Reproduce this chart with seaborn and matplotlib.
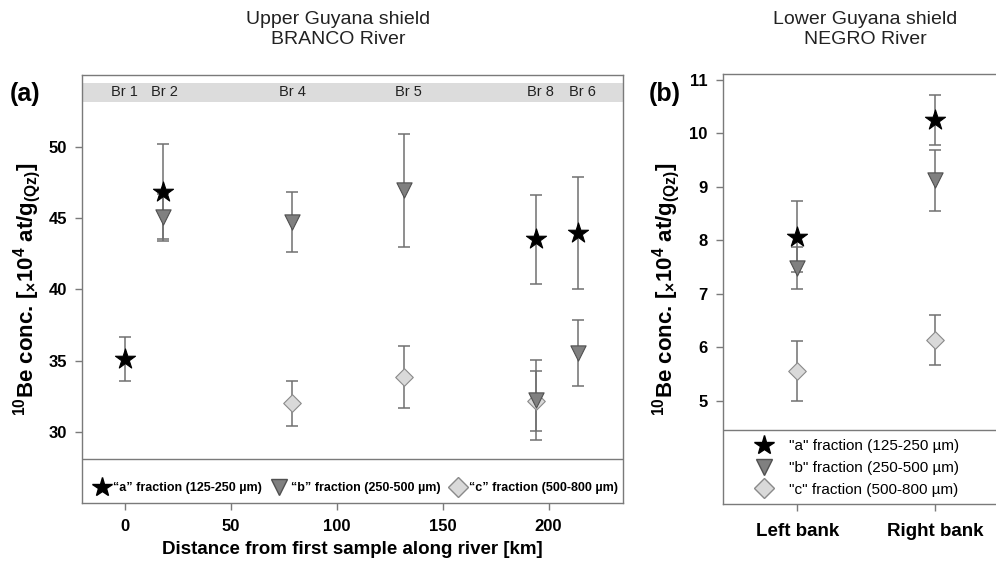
import matplotlib
matplotlib.use("Agg")
import matplotlib.pyplot as plt
from matplotlib.lines import Line2D
import seaborn as sns
import pandas as pd

# ---------------- data ----------------
# Panel (a): BRANCO River, distance along river [km]
site_labels = ["Br 1", "Br 2", "Br 4", "Br 5", "Br 8", "Br 6"]
site_km = [0, 19, 79, 134, 196, 216]

a_km = [0, 18, 194, 214]
a_val = [35.1, 46.8, 43.5, 43.95]
a_err = [1.55, 3.4, 3.1, 3.9]

b_km = [18, 79, 132, 194, 214]
b_val = [45.1, 44.72, 46.94, 32.25, 35.55]
b_err = [1.6, 2.1, 3.95, 2.8, 2.3]

c_km = [79, 132, 194]
c_val = [32.0, 33.86, 32.18]
c_err = [1.55, 2.2, 2.1]

x_ticks_a = [0, 50, 100, 150, 200]
y_ticks_a = [30, 35, 40, 45, 50]

# Panel (b): NEGRO River banks
banks = ["Left bank", "Right bank"]
nb_a_val = [8.07, 10.25]
nb_a_err = [0.66, 0.47]
nb_b_val = [7.48, 9.12]
nb_b_err = [0.39, 0.57]
nb_c_val = [5.55, 6.13]
nb_c_err = [0.56, 0.47]
y_ticks_b = [5, 6, 7, 8, 9, 10, 11]

legend_a = ["\u201ca\u201d fraction (125-250 \u00b5m)",
            "\u201cb\u201d fraction (250-500 \u00b5m)",
            "\u201cc\u201d fraction (500-800 \u00b5m)"]
legend_b = ["\"a\" fraction (125-250 \u00b5m)",
            "\"b\" fraction (250-500 \u00b5m)",
            "\"c\" fraction (500-800 \u00b5m)"]

# ---------------- style ----------------
sns.set_theme(style="ticks")
FAM = ["Liberation Sans", "DejaVu Sans"]
plt.rcParams["font.family"] = FAM
plt.rcParams["mathtext.default"] = "regular"
plt.rcParams["text.color"] = "black"
plt.rcParams["axes.labelcolor"] = "black"
plt.rcParams["xtick.labelcolor"] = "black"
plt.rcParams["ytick.labelcolor"] = "black"

SPINE = "#7a7a7a"
ERR = "#707070"
styles = {
    "a": dict(marker="*", color="black", edge="black", s=230),
    "b": dict(marker="v", color="#808080", edge="#505050", s=120),
    "c": dict(marker="D", color="#d9d9d9", edge="#8a8a8a", s=80),
}

fig = plt.figure(figsize=(9.96, 5.63), dpi=100)
ax1 = fig.add_axes([0.0826, 0.106, 0.5426, 0.7613])
ax2 = fig.add_axes([0.7256, 0.1048, 0.2885, 0.7638])


def draw_series(ax, x, y, err, key):
    st = styles[key]
    ax.errorbar(x, y, yerr=err, fmt="none", ecolor=ERR, elinewidth=1.1,
                capsize=4.5, capthick=1.1, zorder=2)
    df = pd.DataFrame({"x": x, "y": y})
    sns.scatterplot(data=df, x="x", y="y", ax=ax, marker=st["marker"],
                    color=st["color"], edgecolor=st["edge"], linewidth=0.8,
                    s=st["s"], zorder=3, legend=False)


def style_axes(ax, xsize=12, ysize=12):
    for sp in ax.spines.values():
        sp.set_color(SPINE)
        sp.set_linewidth(1.0)
    ax.tick_params(axis="both", direction="out", length=5, width=1,
                   color=SPINE, pad=6)
    ax.tick_params(axis="x", labelsize=xsize)
    ax.tick_params(axis="y", labelsize=ysize)
    for lab in ax.get_xticklabels() + ax.get_yticklabels():
        lab.set_fontweight("bold")
    ax.set_xlabel("")
    ax.set_ylabel("")


# ---------------- panel (a) ----------------
draw_series(ax1, c_km, c_val, c_err, "c")
draw_series(ax1, b_km, b_val, b_err, "b")
draw_series(ax1, a_km, a_val, a_err, "a")
ax1.set_xlim(-20, 235)
ax1.set_ylim(25, 55.05)
ax1.set_xticks(x_ticks_a)
ax1.set_yticks(y_ticks_a)
ax1.axhspan(53.15, 54.5, color="#dcdcdc", lw=0, zorder=0)
for lab, km in zip(site_labels, site_km):
    ax1.text(km, 53.85, lab, ha="center", va="center", fontsize=10.5,
             color="#222222", family=FAM)
ax1.axhline(28.13, color=SPINE, lw=1.0, zorder=1)
style_axes(ax1)
ax1.set_xlabel("Distance from first sample along river [km]",
               fontsize=13.5, fontweight="bold", labelpad=5)

ylab = r"$^{10}$Be conc. [$_{\times}$10$^{4}$ at/g$_{(Qz)}$]"
ax1.set_ylabel(ylab, fontsize=16, fontweight="bold", labelpad=4)

handles = [Line2D([], [], linestyle="none", marker=styles[k]["marker"],
                  markerfacecolor=styles[k]["color"],
                  markeredgecolor=styles[k]["edge"],
                  markersize=ms) for k, ms in zip("abc", [15, 11, 10])]
ax1.legend(handles, legend_a, ncol=3, loc="center",
           bbox_to_anchor=(0.506, 0.0357), frameon=False,
           handletextpad=0.25, columnspacing=0.75, handlelength=1.3,
           borderaxespad=0, borderpad=0,
           prop=dict(family=FAM, weight="bold", size=9))

# ---------------- panel (b) ----------------
xb = [0, 1]
draw_series(ax2, xb, nb_c_val, nb_c_err, "c")
draw_series(ax2, xb, nb_b_val, nb_b_err, "b")
draw_series(ax2, xb, nb_a_val, nb_a_err, "a")
ax2.set_xlim(-0.54, 1.54)
ax2.set_ylim(3.07, 11.11)
ax2.set_yticks(y_ticks_b)
ax2.set_xticks(xb)
ax2.set_xticklabels(banks)
ax2.axhline(4.45, color=SPINE, lw=1.0, zorder=1)
style_axes(ax2, xsize=13.5)
ax2.tick_params(axis="x", pad=9)
ax2.set_ylabel(ylab, fontsize=16, fontweight="bold", labelpad=5)

handles_b = [Line2D([], [], linestyle="none", marker=styles[k]["marker"],
                    markerfacecolor=styles[k]["color"],
                    markeredgecolor=styles[k]["edge"],
                    markersize=ms) for k, ms in zip("abc", [15, 11, 10])]
ax2.legend(handles_b, legend_b, loc="upper left",
           bbox_to_anchor=(0.105, 0.15), frameon=False,
           handletextpad=0.95, handlelength=1.4, labelspacing=0.5,
           borderaxespad=0, borderpad=0,
           prop=dict(family=FAM, size=11))

# ---------------- titles / panel labels ----------------
TCOL = "#222222"
fig.text(338 / 996, 1 - 19 / 563, "Upper Guyana shield", ha="center",
         va="center", fontsize=14, family=FAM, color=TCOL)
fig.text(338 / 996, 1 - 39 / 563, "BRANCO River", ha="center",
         va="center", fontsize=14, family=FAM, color=TCOL)
fig.text(865 / 996, 1 - 19 / 563, "Lower Guyana shield", ha="center",
         va="center", fontsize=14, family=FAM, color=TCOL)
fig.text(865 / 996, 1 - 39 / 563, "NEGRO River", ha="center",
         va="center", fontsize=14, family=FAM, color=TCOL)
fig.text(25 / 996, 1 - 94 / 563, "(a)", ha="center", va="center",
         fontsize=18, fontweight="bold")
fig.text(665 / 996, 1 - 94 / 563, "(b)", ha="center", va="center",
         fontsize=18, fontweight="bold")

fig.savefig("out.png", dpi=100)
